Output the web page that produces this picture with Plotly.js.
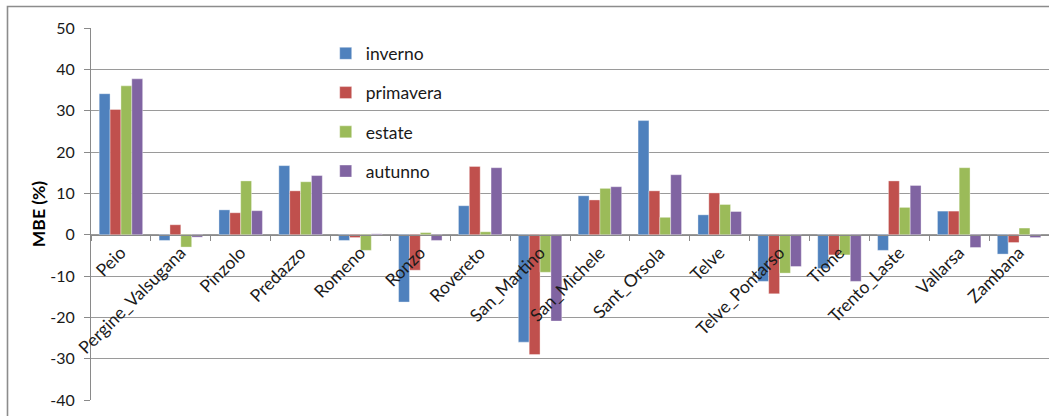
<!DOCTYPE html>
<html>
<head>
<meta charset="utf-8">
<script src="https://cdn.plot.ly/plotly-3.0.1.min.js"></script>
<style>
  html, body { margin: 0; padding: 0; background: #fff; }
  #chart { width: 1049px; height: 416px; }
</style>
</head>
<body>
<div id="chart"></div>
<script>
// Stations
const stations = ['Peio', 'Pergine_Valsugana', 'Pinzolo', 'Predazzo', 'Romeno', 'Ronzo',
  'Rovereto', 'San_Martino', 'San_Michele', 'Sant_Orsola', 'Telve', 'Telve_Pontarso',
  'Tione', 'Trento_Laste', 'Vallarsa', 'Zambana'];

// Seasonal MBE (%) per station
const inverno   = [34.1, -1.4, 6.0, 16.7, -1.4, -16.3, 7.0, -26.0, 9.4, 27.6, 4.8, -11.3, -8.2, -3.8, 5.7, -4.7];
const primavera = [30.3, 2.4, 5.3, 10.6, -0.7, -8.6, 16.5, -29.0, 8.4, 10.6, 10.1, -14.3, -4.9, 13.0, 5.7, -1.9];
const estate    = [36.0, -3.0, 13.0, 12.8, -3.8, 0.5, 0.7, -9.1, 11.2, 4.2, 7.3, -9.3, -4.9, 6.6, 16.2, 1.6];
const autunno   = [37.7, -0.6, 5.8, 14.3, 0.2, -1.4, 16.2, -20.9, 11.6, 14.5, 5.6, -7.7, -11.3, 11.9, -3.1, -0.7];

const seasonNames = ['inverno', 'primavera', 'estate', 'autunno'];
const seasonValues = [inverno, primavera, estate, autunno];
const seasonColors = ['#4F81BD', '#C0504D', '#9BBB59', '#8064A2'];

const yTicks = [-40, -30, -20, -10, 0, 10, 20, 30, 40, 50];

const traces = seasonNames.map((name, i) => ({
  type: 'bar',
  name: name,
  x: stations,
  y: seasonValues[i],
  legendgroup: name,
  marker: { color: seasonColors[i], line: { color: 'rgba(255,255,255,0.45)', width: 0.8 } },
  hoverinfo: 'x+y+name'
}));

const plotLeft = 91, plotWidth = 958, plotTop = 28, plotHeight = 372;
const yMin = -40, yMax = 50;
const labelFont = { family: 'Lato, "Open Sans", sans-serif', size: 17.5, color: '#1a1a1a' };

const layout = {
  width: 1049,
  height: 416,
  margin: { l: plotLeft, r: 1049 - plotLeft - plotWidth, t: plotTop, b: 416 - plotTop - plotHeight, pad: 0 },
  paper_bgcolor: '#ffffff',
  plot_bgcolor: '#ffffff',
  font: labelFont,
  barmode: 'group',
  bargap: 0.274,
  bargroupgap: 0,
  showlegend: true,
  legend: {
    x: 0.245, y: 0.98, xanchor: 'left', yanchor: 'top',
    bgcolor: 'rgba(0,0,0,0)',
    font: labelFont,
    traceorder: 'grouped',
    tracegroupgap: 13.5
  },
  xaxis: {
    type: 'category',
    anchor: 'free',
    position: (0 - yMin) / (yMax - yMin),
    showline: true,
    linecolor: '#8a8a8a',
    linewidth: 1,
    showgrid: false,
    zeroline: false,
    ticks: 'outside',
    tickson: 'boundaries',
    ticklen: 5,
    tickcolor: '#8a8a8a',
    tickangle: -45,
    tickfont: labelFont,
    range: [-0.5, stations.length - 0.5],
    fixedrange: true
  },
  yaxis: {
    range: [yMin, yMax],
    tickvals: yTicks,
    ticktext: yTicks.map(String),
    showline: true,
    linecolor: '#8a8a8a',
    linewidth: 1,
    showgrid: true,
    gridcolor: '#9a9a9a',
    gridwidth: 1,
    zeroline: false,
    ticks: 'outside',
    ticklen: 6,
    tickcolor: '#8a8a8a',
    ticklabelstandoff: 6,
    tickfont: { family: 'Lato, sans-serif', size: 16, color: '#1a1a1a' },
    title: { text: 'MBE (%)', font: { family: 'Lato, sans-serif', size: 17.5, color: '#000', weight: 'bold' }, standoff: 0 },
    fixedrange: true
  },
  shapes: [{
    type: 'rect',
    xref: 'paper', yref: 'paper',
    x0: (7.5 - plotLeft) / plotWidth,
    x1: 1.5,
    y0: -0.5,
    y1: 1 + (plotTop - 6.5) / plotHeight,
    line: { color: '#8c8c8c', width: 1.6 },
    fillcolor: 'rgba(0,0,0,0)',
    layer: 'below'
  }]
};

Plotly.newPlot('chart', traces, layout, { displayModeBar: false, staticPlot: true });
</script>
</body>
</html>
